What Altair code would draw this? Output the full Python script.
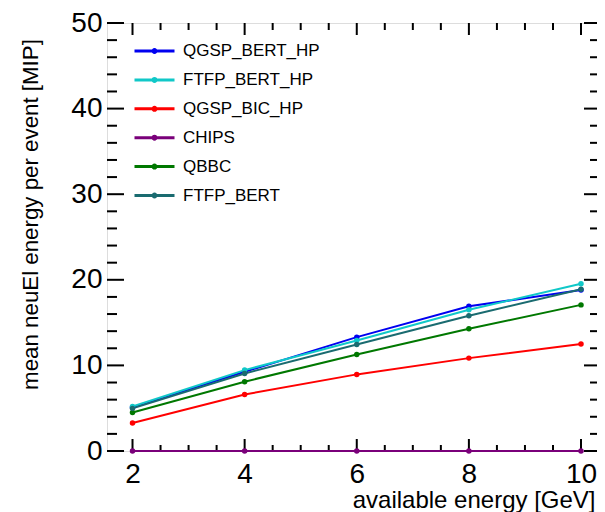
import altair as alt
import pandas as pd

# ---- data ----
energies = [2, 4, 6, 8, 10]
series_names = ["QGSP_BERT_HP", "FTFP_BERT_HP", "QGSP_BIC_HP", "CHIPS", "QBBC", "FTFP_BERT"]
qgsp_bert_hp = [5.1, 9.25, 13.3, 16.9, 18.8]
ftfp_bert_hp = [5.2, 9.45, 12.9, 16.5, 19.55]
qgsp_bic_hp = [3.27, 6.6, 8.95, 10.85, 12.5]
chips = [0.0, 0.0, 0.0, 0.0, 0.0]
qbbc = [4.5, 8.1, 11.27, 14.27, 17.07]
ftfp_bert = [4.98, 9.06, 12.44, 15.8, 18.9]
series_colors = ["#0000f0", "#10c8c8", "#ff0000", "#7a007a", "#007800", "#1a6b70"]

x_major = [2, 4, 6, 8, 10]
x_minor = [2.5, 3, 3.5, 4.5, 5, 5.5, 6.5, 7, 7.5, 8.5, 9, 9.5]
y_major = [0, 10, 20, 30, 40, 50]
y_minor = [2, 4, 6, 8, 12, 14, 16, 18, 22, 24, 26, 28, 32, 34, 36, 38, 42, 44, 46, 48]

x_domain = [1.545, 10.285]
y_domain = [0, 50]

W, H = 490, 428
FONT = "Liberation Sans"

rows = []
for name, vals in zip(series_names, [qgsp_bert_hp, ftfp_bert_hp, qgsp_bic_hp, chips, qbbc, ftfp_bert]):
    for e, v in zip(energies, vals):
        rows.append({"model": name, "energy": e, "value": v})
df = pd.DataFrame(rows)

xscale = alt.Scale(domain=x_domain, nice=False, zero=False)
yscale = alt.Scale(domain=y_domain, nice=False, zero=False)

XTITLE = "available energy [GeV]"
YTITLE = "mean neuEl energy per event [MIP]"

xaxis = alt.Axis(
    values=x_major, ticks=False, domain=False, grid=False,
    labelFont=FONT, labelFontSize=28, labelColor="black", labelPadding=9,
    labelBaseline="top", labelFlush=False,
    titleFont=FONT, titleFontSize=24, titleFontWeight="normal", titleColor="black",
    titleAnchor="end", titleAlign="right", titleBaseline="alphabetic",
    titleX=W - 2, titleY=56,
)
yaxis = alt.Axis(
    values=y_major, ticks=False, domain=False, grid=False,
    labelFont=FONT, labelFontSize=28, labelColor="black", labelPadding=5,
    labelFlush=False,
    titleFont=FONT, titleFontSize=22.3, titleFontWeight="normal", titleColor="black",
    titleAngle=270, titleAlign="center", titleBaseline="alphabetic",
    titleX=-70, titleY=191,
)

legend_path = "M-2,0L2,0M-0.15,0A0.15,0.15 0 1,0 0.15,0A0.15,0.15 0 1,0 -0.15,0"

lines = alt.Chart(df).mark_line(
    strokeWidth=2,
    point=alt.OverlayMarkDef(filled=True, size=30),
).encode(
    x=alt.X("energy:Q", scale=xscale, axis=xaxis, title=XTITLE),
    y=alt.Y("value:Q", scale=yscale, axis=yaxis, title=YTITLE),
    color=alt.Color(
        "model:N",
        scale=alt.Scale(domain=series_names, range=series_colors),
        sort=series_names,
        legend=alt.Legend(
            title=None, orient="none", legendX=36, legendY=16.5,
            symbolType=legend_path, symbolSize=400, symbolStrokeWidth=3,
            labelFont=FONT, labelFontSize=17, labelColor="black",
            labelOffset=17, rowPadding=8.9, padding=0,
        ),
    ),
    order=alt.Order("energy:Q"),
)


def xtick_layer(values, y0, y1):
    d = pd.DataFrame({"energy": values})
    return alt.Chart(d).mark_rule(color="black", strokeWidth=2).encode(
        x=alt.X("energy:Q", scale=xscale, axis=xaxis, title=XTITLE),
        y=alt.value(y0), y2=alt.value(y1),
    )


def ytick_layer(values, x0, x1):
    d = pd.DataFrame({"value": values})
    return alt.Chart(d).mark_rule(color="black", strokeWidth=2).encode(
        y=alt.Y("value:Q", scale=yscale, axis=yaxis, title=YTITLE),
        x=alt.value(x0), x2=alt.value(x1),
    )


ticks = [
    xtick_layer(x_major, H, H - 12),
    xtick_layer(x_minor, H, H - 6),
    xtick_layer(x_major, 0, 12),
    xtick_layer(x_minor, 0, 7),
    ytick_layer(y_major, 0, 17),
    ytick_layer(y_minor, 0, 10),
    ytick_layer(y_major, W, W - 13),
    ytick_layer(y_minor, W, W - 7),
]

chart = alt.layer(*ticks, lines).properties(
    width=W, height=H,
    autosize=alt.AutoSizeParams(type="none"),
    padding={"left": 99, "top": 15, "right": 0, "bottom": 61},
).configure_view(
    stroke="black", strokeWidth=2.5, fill="white"
).configure(background="white")

chart.save("out.html", embed_options={"renderer": "svg", "actions": False})
